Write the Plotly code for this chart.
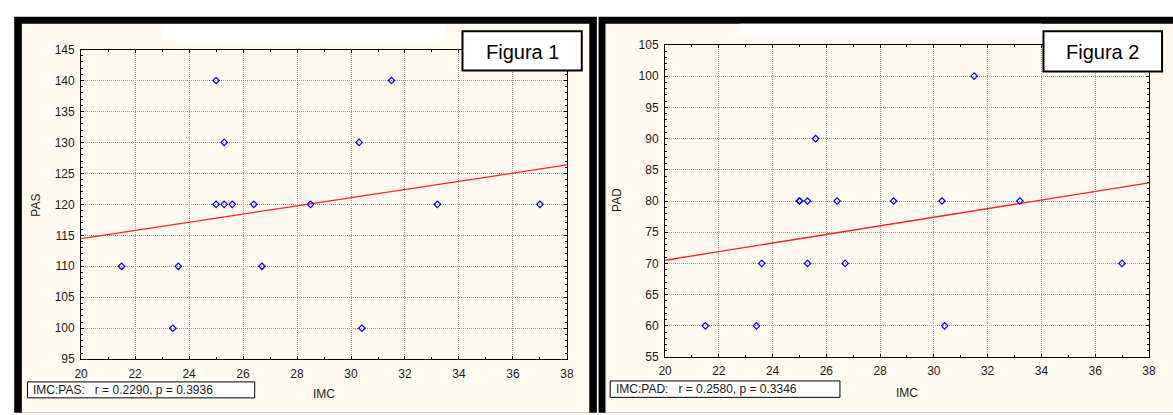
import numpy as np
import plotly.graph_objects as go

# ---------------- data ----------------
imc = [21.5, 23.4, 23.6, 25.0, 25.0, 25.3, 25.3, 25.6, 26.4, 26.7, 28.5, 30.3, 30.4, 31.5, 33.2, 37.0]
pas = [110, 100, 110, 140, 120, 130, 120, 120, 120, 110, 120, 130, 100, 140, 120, 120]
pad = [60, 60, 70, 80, 80, 80, 70, 90, 80, 70, 80, 80, 60, 100, 80, 70]

x_range = [20, 38]
pas_range = [95, 145]
pad_range = [55, 105]

fig_titles = ["Figura 1", "Figura 2"]
stats_texts = ["IMC:PAS:\u00a0\u00a0\u00a0r = 0.2290, p = 0.3936",
               "IMC:PAD:\u00a0\u00a0\u00a0r = 0.2580, p = 0.3346"]
x_title = "IMC"
y_titles = ["PAS", "PAD"]

# ---------------- geometry helpers ----------------
W, H = 1173, 415
def X(px):
    return px / W
def Y(py):
    return 1 - py / H

CREAM = "#FFFAF0"
FONT = "Arial, Liberation Sans, sans-serif"

fig = go.Figure()

# regression lines from data
def fit_line(xs, ys):
    k, b = np.polyfit(np.array(xs, float), np.array(ys, float), 1)
    xx = np.array(x_range, float)
    return xx, k * xx + b

for i, (yy, xa, ya) in enumerate([(pas, "x", "y"), (pad, "x2", "y2")]):
    lx, ly = fit_line(imc, yy)
    fig.add_trace(go.Scatter(x=lx, y=ly, mode="lines", xaxis=xa, yaxis=ya,
                             line=dict(color="#FF2020", width=1.3), showlegend=False,
                             hoverinfo="skip"))
    fig.add_trace(go.Scatter(x=imc, y=yy, mode="markers", xaxis=xa, yaxis=ya,
                             marker=dict(symbol="diamond-open", size=5, color="#0000FF",
                                         line=dict(color="#0000FF", width=1.2)),
                             showlegend=False))

# plot areas (px)
areas = [
    dict(l=75, r=566.7, t=44, b=364.5),
    dict(l=666, r=1155.7, t=39.3, b=362.3),
]

def axis_common(rng, dtick, domain, minor_dtick):
    return dict(
        range=rng, dtick=dtick, domain=domain,
        showline=True, linecolor="#000000", linewidth=1, mirror="allticks",
        ticks="inside", ticklen=3, tickcolor="#000000", tickwidth=1,
        showgrid=True, gridcolor="#9A9A9A", gridwidth=1, griddash="1px,1px",
        zeroline=False, fixedrange=True,
        tickfont=dict(family=FONT, size=12, color="#1A1A1A"),
        minor=dict(dtick=minor_dtick, ticks="inside", ticklen=2, tickcolor="#000000",
                   showgrid=False),
        ticklabelstandoff=3,
    )

a1, a2 = areas
fig.update_layout(
    xaxis=dict(**axis_common(x_range, 2, [X(a1["l"]), X(a1["r"])], 1), anchor="y"),
    yaxis=dict(**axis_common(pas_range, 5, [Y(a1["b"]), Y(a1["t"])], 1), anchor="x"),
    xaxis2=dict(**axis_common(x_range, 2, [X(a2["l"]), X(a2["r"])], 1), anchor="y2"),
    yaxis2=dict(**axis_common(pad_range, 5, [Y(a2["b"]), Y(a2["t"])], 1), anchor="x2"),
)

shapes = []
def rect(x0, y0, x1, y1, fill, line_color=None, lw=0, layer="below"):
    shapes.append(dict(type="rect", xref="paper", yref="paper",
                       x0=X(x0), x1=X(x1), y0=Y(y1), y1=Y(y0),
                       fillcolor=fill, layer=layer,
                       line=dict(color=line_color or fill, width=lw)))

# panel frames
rect(7.3, 10, 597, 420, "#000000")
rect(15, 17.3, 589.3, 420, CREAM)
rect(598.7, 10, 1190, 420, "#000000")
rect(605.7, 17.3, 1190, 420, CREAM)
# blank white strips at top
rect(158, 18, 443, 35, "#FFFFFF")
rect(742, 17.3, 1047, 31, "#FFFFFF")

# boxes above
for (x0, y0, x1, y1, lw) in [(461, 25, 581.7, 65.7, 2), (1049, 25, 1169, 66.7, 2),
                             (20.7, 388, 250.7, 404.5, 1), (610.5, 387, 843, 404, 1)]:
    shapes.append(dict(type="rect", xref="paper", yref="paper",
                       x0=X(x0), x1=X(x1), y0=Y(y1), y1=Y(y0),
                       fillcolor="#FFFFFF", layer="above",
                       line=dict(color="#000000", width=lw)))
fig.update_layout(shapes=shapes)

ann = []
def text(px, py, s, size, xanchor="center", angle=0, color="#000000"):
    ann.append(dict(xref="paper", yref="paper", x=X(px), y=Y(py), text=s,
                    showarrow=False, xanchor=xanchor, yanchor="middle",
                    textangle=angle, font=dict(family=FONT, size=size, color=color)))

text(521.3, 47, fig_titles[0], 20)
text(1109, 47, fig_titles[1], 20)
text(24, 396.5, stats_texts[0], 12, xanchor="left", color="#1A1A1A")
text(614, 395.5, stats_texts[1], 12, xanchor="left", color="#1A1A1A")
text((a1["l"] + a1["r"]) / 2, 401, x_title, 12, color="#1A1A1A")
text((a2["l"] + a2["r"]) / 2, 399, x_title, 12, color="#1A1A1A")
text(29, 205, y_titles[0], 12, angle=-90, color="#1A1A1A")
text(618, 200, y_titles[1], 12, angle=-90, color="#1A1A1A")

fig.update_layout(
    annotations=ann,
    width=W, height=H,
    margin=dict(l=0, r=0, t=0, b=0),
    paper_bgcolor="#FFFFFF", plot_bgcolor="#FFFFFF",
    showlegend=False,
)

fig.write_html("out.html", config={"displayModeBar": False})
